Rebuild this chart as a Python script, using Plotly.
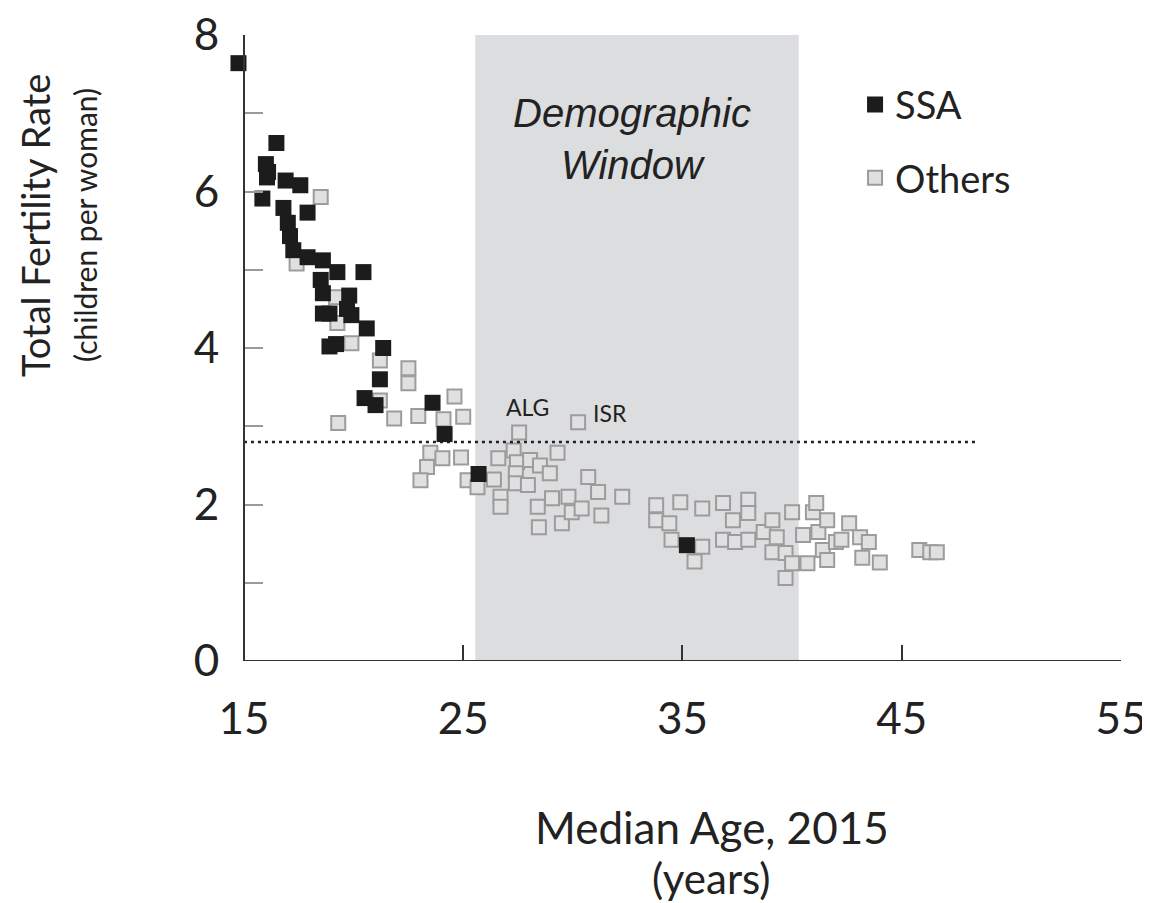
import plotly.graph_objects as go

# ---- Data ----
ssa_age = [14.75, 16.48, 16.0, 16.1, 16.05, 16.9, 17.57, 15.84, 17.9, 16.8, 17.0, 17.1,
           17.25, 17.9, 18.6, 19.26, 20.45, 18.5, 18.6, 18.6, 19.8, 19.7, 18.9, 19.9,
           20.6, 18.9, 19.2, 21.35, 21.2, 20.5, 21.0, 23.6, 24.15, 25.7, 35.2]
ssa_tfr = [7.64, 6.62, 6.35, 6.25, 6.18, 6.14, 6.08, 5.91, 5.73, 5.79, 5.6, 5.43,
           5.25, 5.16, 5.12, 4.97, 4.97, 4.87, 4.7, 4.44, 4.67, 4.5, 4.44, 4.42,
           4.25, 4.02, 4.05, 4.0, 3.6, 3.36, 3.27, 3.3, 2.9, 2.39, 1.48]

oth_age = [18.5, 17.4, 19.2, 19.26, 19.9, 21.2, 22.5, 22.5, 21.2, 21.85, 22.95, 24.6,
           19.3, 24.1, 25.0, 27.55, 30.24, 23.5, 23.35, 23.05, 24.05, 24.9, 25.2, 25.65,
           26.6, 26.4, 26.7, 26.7, 27.3, 27.45, 27.4, 27.4, 28.05, 27.95, 28.5, 28.95,
           29.3, 28.4, 28.45, 29.05, 29.5, 29.8, 29.95, 30.4, 30.7, 31.15, 31.3, 32.25,
           33.8, 33.8, 34.9, 34.4, 35.9, 36.85, 38.0, 38.0, 37.3, 34.5, 35.9, 35.55,
           36.85, 37.4, 38.0, 38.7, 39.1, 39.1, 39.3, 39.7, 39.7, 40.0, 40.0, 40.5,
           40.7, 40.95, 41.1, 41.2, 41.4, 41.6, 41.6, 42.0, 42.25, 42.6, 43.1, 43.2,
           43.5, 44.0, 45.8, 46.3, 46.6]
oth_tfr = [5.93, 5.08, 4.65, 4.32, 4.06, 3.84, 3.74, 3.55, 3.33, 3.1, 3.13, 3.38,
           3.04, 3.09, 3.12, 2.92, 3.05, 2.66, 2.48, 2.31, 2.59, 2.6, 2.31, 2.22,
           2.59, 2.32, 2.1, 1.97, 2.69, 2.54, 2.4, 2.27, 2.57, 2.25, 2.5, 2.4,
           2.66, 1.97, 1.71, 2.08, 1.76, 2.1, 1.9, 1.95, 2.35, 2.16, 1.86, 2.1,
           1.99, 1.8, 2.03, 1.76, 1.95, 2.02, 2.06, 1.89, 1.8, 1.55, 1.46, 1.27,
           1.55, 1.52, 1.55, 1.65, 1.8, 1.39, 1.58, 1.38, 1.06, 1.9, 1.25, 1.61,
           1.25, 1.9, 2.02, 1.65, 1.42, 1.29, 1.8, 1.52, 1.55, 1.76, 1.58, 1.32,
           1.52, 1.26, 1.42, 1.39, 1.39]

labels = ["ALG", "ISR"]
label_age = [27.92, 31.7]
label_tfr = [3.24, 3.17]

window_start, window_end = 25.55, 40.3
replacement_tfr = 2.8
replacement_age = [15, 48.5]

x_ticks = [15, 25, 35, 45, 55]
x_min, x_axis_start, x_max = 14.5, 15, 55

# ---- Figure ----
fig = go.Figure()

fig.add_shape(type="rect", xref="x", yref="y", x0=window_start, x1=window_end,
              y0=0, y1=8, fillcolor="#dcdddf", line=dict(width=0), layer="below")
# x axis baseline starting at the y axis
fig.add_shape(type="line", xref="x", yref="y", x0=x_axis_start, x1=x_max,
              y0=0, y1=0, line=dict(color="#333", width=2), layer="above")

fig.add_trace(go.Scatter(
    x=oth_age, y=oth_tfr, mode="markers", name="Others", legendrank=2,
    legendgroup="oth",
    marker=dict(symbol="square", size=14, color="#e0e0e2",
                line=dict(color="#9c9c9c", width=2)),
    cliponaxis=False))

fig.add_trace(go.Scatter(
    x=replacement_age, y=[replacement_tfr] * len(replacement_age), mode="lines",
    line=dict(color="#222", width=2.5, dash="3px,4px"), showlegend=False,
    hoverinfo="skip"))

fig.add_trace(go.Scatter(
    x=ssa_age, y=ssa_tfr, mode="markers", name="SSA", legendrank=1,
    legendgroup="ssa",
    marker=dict(symbol="square", size=16, color="#1c1c1c", line=dict(width=0)),
    cliponaxis=False))

for t, a, v in zip(labels, label_age, label_tfr):
    fig.add_annotation(x=a, y=v, text=t, showarrow=False, xref="x", yref="y",
                       font=dict(family="Lato", size=23, color="#222"))

fig.add_annotation(x=32.7, y=6.67, xref="x", yref="y",
                   text="<i>Demographic<br>Window</i>", showarrow=False,
                   font=dict(family="Liberation Sans", size=40, color="#222"))

# axis titles as annotations
fig.add_annotation(x=-0.223, y=0.6965, xref="paper", yref="paper", textangle=-90,
                   text="Total Fertility Rate", showarrow=False,
                   xanchor="center", yanchor="middle",
                   font=dict(family="Lato", size=38, color="#222"))
fig.add_annotation(x=-0.1667, y=0.6965, xref="paper", yref="paper", textangle=-90,
                   text="(children per woman)", showarrow=False,
                   xanchor="center", yanchor="middle",
                   font=dict(family="Lato", size=30, color="#222"))
fig.add_annotation(x=0.539, y=-0.265, xref="paper", yref="paper",
                   text="Median Age, 2015", showarrow=False,
                   xanchor="center", yanchor="middle",
                   font=dict(family="Lato", size=44, color="#222"))
fig.add_annotation(x=0.539, y=-0.347, xref="paper", yref="paper",
                   text="(years)", showarrow=False,
                   xanchor="center", yanchor="middle",
                   font=dict(family="Lato", size=42, color="#222"))

fig.update_layout(
    width=1142, height=895,
    margin=dict(l=225, r=29, t=27, b=242, autoexpand=False),
    paper_bgcolor="white", plot_bgcolor="white",
    font=dict(family="Lato", color="#222"),
    legend=dict(x=0.7005, y=0.939, xanchor="left", yanchor="top",
                font=dict(size=38, color="#222"), bgcolor="rgba(0,0,0,0)",
                tracegroupgap=21),
    showlegend=True,
)

fig.update_xaxes(range=[x_min, x_max], tickvals=x_ticks, ticks="inside", ticklen=16,
                 tickwidth=2, tickcolor="#333", showline=False,
                 showgrid=False, zeroline=False, automargin=False,
                 ticklabeloverflow="allow",
                 tickfont=dict(size=44, color="#222"), ticklabelstandoff=28)
fig.update_yaxes(range=[0, 8], tick0=0, dtick=2, ticks="inside", ticklen=18,
                 anchor="free", position=(x_axis_start - x_min) / (x_max - x_min),
                 tickwidth=2, tickcolor="#9a9a9a", showline=True, linecolor="#333",
                 linewidth=2, showgrid=False, zeroline=False, automargin=False,
                 ticklabeloverflow="allow",
                 minor=dict(dtick=1, ticks="inside", ticklen=18, tickwidth=2,
                            tickcolor="#9a9a9a", showgrid=False),
                 tickfont=dict(size=44, color="#222"), ticklabelstandoff=15)

fig.write_html("out.html")
